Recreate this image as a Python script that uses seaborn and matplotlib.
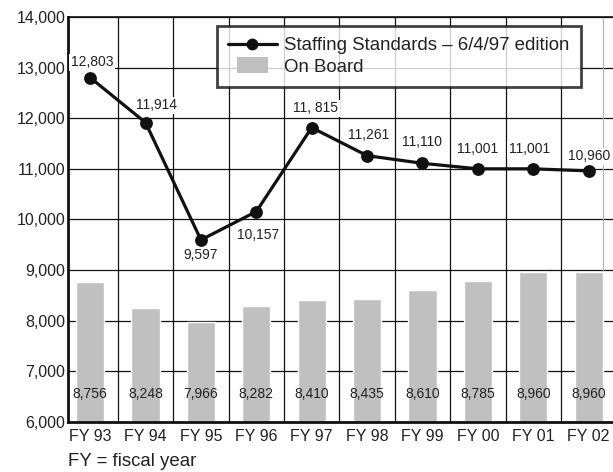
import numpy as np
import matplotlib
matplotlib.use("Agg")
import matplotlib.pyplot as plt
from matplotlib.lines import Line2D
from matplotlib.patches import Rectangle
from matplotlib.legend_handler import HandlerPatch
from matplotlib.ticker import FuncFormatter, MultipleLocator, FixedLocator
import seaborn as sns

# Fiscal years shown on the x axis
years = ["FY 93", "FY 94", "FY 95", "FY 96", "FY 97",
         "FY 98", "FY 99", "FY 00", "FY 01", "FY 02"]

# Staffing standards (6/4/97 edition)
standards = [12803, 11914, 9597, 10157, 11815, 11261, 11110, 11001, 11001, 10960]
standards_text = ["12,803", "11,914", "9,597", "10,157", "11, 815",
                  "11,261", "11,110", "11,001", "11,001", "10,960"]

# Employees on board
on_board = [8756, 8248, 7966, 8282, 8410, 8435, 8610, 8785, 8960, 8960]

line_label = "Staffing Standards \u2013 6/4/97 edition"
bar_label = "On Board"
footnote = "FY = fiscal year"

sns.set_theme(style="white")
plt.rcParams["font.family"] = ["Liberation Sans", "DejaVu Sans"]

fig = plt.figure(figsize=(6.13, 4.72), dpi=100)
ax = fig.add_axes([68 / 613, 50 / 472, 545 / 613, 405 / 472])

bar_color = "#c0c0c0"
ink = "#111111"

sns.barplot(x=years, y=on_board, color=bar_color, saturation=1,
            width=0.51, ax=ax, zorder=2)
sns.pointplot(x=years, y=standards, color=ink, marker="o", markersize=7.5,
              linewidth=2.3, ax=ax, zorder=4)

ax.set_xlim(-0.40, 9.44)
ax.set_ylim(6000, 14000)
ax.yaxis.set_major_locator(MultipleLocator(1000))
ax.yaxis.set_major_formatter(FuncFormatter(lambda v, _: f"{int(v):,}"))
ax.xaxis.set_minor_locator(FixedLocator(np.arange(len(years) - 1) + 0.5))

ax.set_axisbelow(True)
ax.grid(axis="y", which="major", color=ink, linewidth=0.9, zorder=0)
ax.grid(axis="x", which="minor", color=ink, linewidth=0.9, zorder=0)
ax.grid(axis="x", which="major", visible=False)

ax.tick_params(axis="both", which="both", length=0, labelsize=11.5,
               colors="#222222", pad=5)
ax.tick_params(axis="y", pad=2)
ax.set_xlabel("")
ax.set_ylabel("")

for side in ("left", "bottom"):
    ax.spines[side].set_linewidth(2.0)
    ax.spines[side].set_color(ink)
ax.spines["top"].set_linewidth(1.2)
ax.spines["top"].set_color(ink)
ax.spines["right"].set_visible(False)
ax.axvline(9.26, color="#b5b5b5", linewidth=0.8, zorder=1)

# Value labels for the staffing-standard line
offsets = [(1.5, 11), (8, 12.5), (0, -10.8), (1.5, -16.6), (3, 14),
           (1, 15), (0, 15), (0, 14), (-3, 14), (0, 10.5)]
for i, (v, txt) in enumerate(zip(standards, standards_text)):
    ax.annotate(txt, (i, v), xytext=offsets[i], textcoords="offset points",
                ha="center", va="center", fontsize=10, color="#222222",
                zorder=3.5,
                bbox=dict(boxstyle="square,pad=0.12", fc="white", ec="none"))

# Value labels near the bottom of each on-board bar
for i, v in enumerate(on_board):
    ax.text(i, 6550, f"{v:,}", ha="center", va="center", fontsize=10,
            color="#222222", zorder=5)


def small_rect(legend, orig_handle, xdescent, ydescent, width, height, fontsize):
    w = width * 0.65
    return Rectangle((-xdescent + (width - w) / 2, -ydescent - height * 0.12),
                     w, height * 1.24)


handles = [
    Line2D([], [], color=ink, linewidth=2.3, marker="o", markersize=7.5),
    Rectangle((0, 0), 1, 1, facecolor=bar_color, edgecolor="none"),
]
leg = ax.legend(handles, [line_label, bar_label], loc="upper left",
                bbox_to_anchor=((217 - 68) / 545, (422 - 26) / 405),
                borderaxespad=0, fontsize=13.4, frameon=True, fancybox=False,
                handlelength=2.6, handletextpad=0.4, labelspacing=0.25,
                borderpad=0.6,
                handler_map={Rectangle: HandlerPatch(patch_func=small_rect)})
leg.get_frame().set_edgecolor(ink)
leg.get_frame().set_linewidth(2.0)
leg.get_frame().set_facecolor("white")
leg.set_zorder(6)
for t in leg.get_texts():
    t.set_color("#222222")

fig.text(68 / 613, 1 - 461 / 472, footnote, ha="left", va="center",
         fontsize=13.4, color="#222222")

fig.savefig("out.png", dpi=100, facecolor="white")
